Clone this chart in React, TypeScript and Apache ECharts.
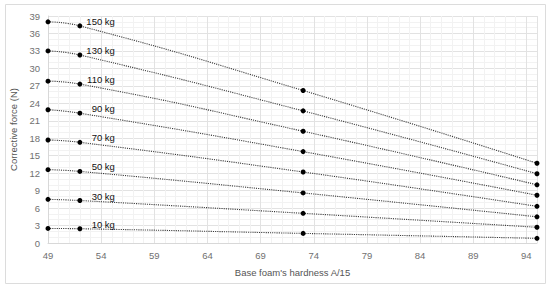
import React, { useEffect, useRef } from "react";
import * as echarts from "echarts";

const hardness = [49, 52, 73, 95];
const loads = ["150 kg", "130 kg", "110 kg", "90 kg", "70 kg", "50 kg", "30 kg", "10 kg"];
const force150 = [38.0, 37.3, 26.2, 13.7];
const force130 = [33.0, 32.3, 22.7, 11.9];
const force110 = [27.8, 27.3, 19.2, 10.0];
const force90 = [22.9, 22.3, 15.7, 8.2];
const force70 = [17.7, 17.3, 12.2, 6.3];
const force50 = [12.6, 12.3, 8.6, 4.5];
const force30 = [7.5, 7.3, 5.1, 2.7];
const force10 = [2.5, 2.45, 1.65, 0.8];
const allForces = [force150, force130, force110, force90, force70, force50, force30, force10];
const labelIndex = 1;

export default function App() {
  const ref = useRef<HTMLDivElement>(null);
  useEffect(() => {
    if (!ref.current) return;
    const chart = echarts.init(ref.current, null, { renderer: "svg" });
    const font = "Liberation Sans, Arial, sans-serif";
    const series = allForces.map((vals, si) => ({
      type: "line",
      name: loads[si],
      smooth: 0.5,
      symbol: "circle",
      symbolSize: 5,
      itemStyle: { color: "#000" },
      lineStyle: { type: "dotted", color: "#3a3a3a", width: 1.1 },
      data: vals.map((v, i) => {
        const item: any = { value: [hardness[i], v] };
        if (i === labelIndex) {
          item.label = {
            show: true,
            formatter: loads[si],
            position: "inside",
            align: "right",
            verticalAlign: "middle",
            offset: [35, -4.5],
            color: "#111",
            fontSize: 9.5,
            fontFamily: font,
          };
        }
        return item;
      }),
    }));
    chart.setOption({
      animation: false,
      graphic: [
        {
          type: "rect",
          shape: { x: 5.5, y: 4.5, width: 540, height: 279 },
          style: { fill: "none", stroke: "#dcdcdc", lineWidth: 1 },
          silent: true,
        },
      ],
      grid: { left: 48, right: 13, top: 16, bottom: 45 },
      xAxis: {
        type: "value",
        min: 49,
        max: 95,
        interval: 5,
        name: "Base foam's hardness A/15",
        nameLocation: "middle",
        nameGap: 24.5,
        nameTextStyle: { color: "#555", fontSize: 9.5, fontFamily: font },
        axisLine: { show: true, lineStyle: { color: "#d8d8d8" } },
        axisTick: { show: false },
        axisLabel: { color: "#707070", fontSize: 9.5, fontFamily: font, margin: 7, showMaxLabel: false },
        splitLine: { show: true, lineStyle: { color: "#e2e2e2" } },
        minorTick: { show: false, splitNumber: 5 },
        minorSplitLine: { show: true, lineStyle: { color: "#f2f2f2" } },
      },
      yAxis: {
        type: "value",
        min: 0,
        max: 39,
        interval: 3,
        name: "Corrective force (N)",
        nameLocation: "middle",
        nameGap: 29,
        nameTextStyle: { color: "#555", fontSize: 9.5, fontFamily: font },
        axisLine: { show: true, lineStyle: { color: "#d8d8d8" } },
        axisTick: { show: false },
        axisLabel: { color: "#707070", fontSize: 9.5, fontFamily: font, margin: 8 },
        splitLine: { show: true, lineStyle: { color: "#e2e2e2" } },
        minorTick: { show: false, splitNumber: 3 },
        minorSplitLine: { show: true, lineStyle: { color: "#f2f2f2" } },
      },
      series,
    });
    return () => chart.dispose();
  }, []);
  return (
    <div
      ref={ref}
      style={{ position: "absolute", left: 0, top: 0, width: 550, height: 288, background: "#fff" }}
    />
  );
}
